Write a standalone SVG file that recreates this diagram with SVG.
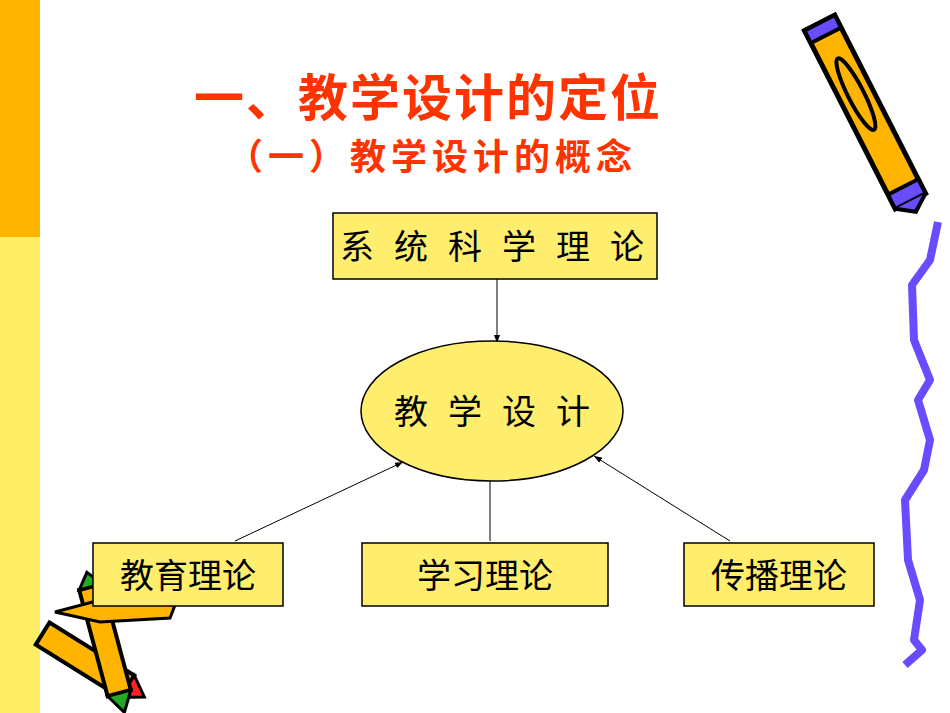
<svg xmlns="http://www.w3.org/2000/svg" width="950" height="713" viewBox="0 0 950 713">
<style>
.box{fill:#FFEE6E;stroke:#000;stroke-width:1.5}
.t{font-family:"Noto Sans CJK SC",serif;font-size:34px;fill:#000}
.ttl{font-family:"Noto Sans CJK SC",sans-serif;font-weight:bold;fill:#FF3300}
.c{stroke:#000;stroke-width:1;fill:none;marker-end:url(#a)}
</style>
<defs><marker id="a" markerWidth="8" markerHeight="6" refX="8" refY="3" orient="auto" markerUnits="userSpaceOnUse"><path d="M0,0L8,3L0,6z" fill="#000"/></marker></defs>
<rect width="950" height="713" fill="#fff"/>
<rect x="0" y="0" width="40" height="237" fill="#FFB400"/>
<rect x="0" y="237" width="40" height="476" fill="#FFEE66"/>
<g id="pencil-tr" transform="translate(865,112) rotate(-27)">
<rect x="-17" y="-100" width="34" height="200" fill="#FFB400" stroke="#000" stroke-width="5"/>
<rect x="-17" y="-100" width="34" height="14" fill="#6A4CFF" stroke="#000" stroke-width="4"/>
<rect x="-17" y="84" width="34" height="16" fill="#6A4CFF" stroke="#000" stroke-width="4"/>
<ellipse cx="0" cy="-20" rx="8" ry="40" fill="none" stroke="#000" stroke-width="4"/>
<path d="M-17,100 L0,112 L17,100" fill="#6A4CFF" stroke="#000" stroke-width="4"/>
</g>
<polyline points="938,222 930,260 912,285 914,340 930,380 918,400 930,440 924,470 905,500 908,560 920,600 914,640 922,650 905,665" fill="none" stroke="#6A4CFF" stroke-width="8" stroke-linejoin="round"/>
<g id="pencils-bl">
<g transform="translate(85,660) rotate(32)"><rect x="-50" y="-13" width="100" height="26" fill="#FFB400" stroke="#000" stroke-width="4"/><path d="M50,-13 L70,0 L50,13z" fill="#FF2020" stroke="#000" stroke-width="3"/></g>
<g transform="translate(105,640) rotate(-15)"><rect x="-12" y="-55" width="24" height="110" fill="#FFB400" stroke="#000" stroke-width="4"/><path d="M-12,-55 L0,-70 L12,-55z" fill="#22AA22" stroke="#000" stroke-width="3"/><path d="M-12,55 L0,75 L12,55z" fill="#22AA22" stroke="#000" stroke-width="3"/></g>
<path d="M55,612 L100,600 L175,605 L170,618 L100,622z" fill="#FFB400" stroke="#000" stroke-width="3"/>
</g>
<text class="ttl" x="428" y="116" font-size="50" text-anchor="middle" letter-spacing="2">一、教学设计的定位</text>
<text class="ttl" x="432" y="170" font-size="36" text-anchor="middle" letter-spacing="5">（一）教学设计的概念</text>
<g id="connectors">
<line class="c" x1="497" y1="279" x2="497" y2="343"/>
<line class="c" x1="235" y1="541" x2="403" y2="462"/>
<line class="c" x1="490" y1="541" x2="490" y2="471"/>
<line class="c" x1="730" y1="541" x2="594" y2="456"/>
</g>
<g id="n1"><rect class="box" x="333" y="213" width="324" height="66"/><text class="t" x="340" y="259" letter-spacing="20">系统科学理论</text></g>
<g id="n2"><ellipse class="box" cx="492" cy="411" rx="131" ry="70"/><text class="t" x="394" y="424" letter-spacing="20">教学设计</text></g>
<g id="n3"><rect class="box" x="93" y="543" width="190" height="63"/><text class="t" x="188" y="588" text-anchor="middle">教育理论</text></g>
<g id="n4"><rect class="box" x="362" y="543" width="246" height="63"/><text class="t" x="485" y="588" text-anchor="middle">学习理论</text></g>
<g id="n5"><rect class="box" x="684" y="543" width="190" height="63"/><text class="t" x="779" y="588" text-anchor="middle">传播理论</text></g>
</svg>
